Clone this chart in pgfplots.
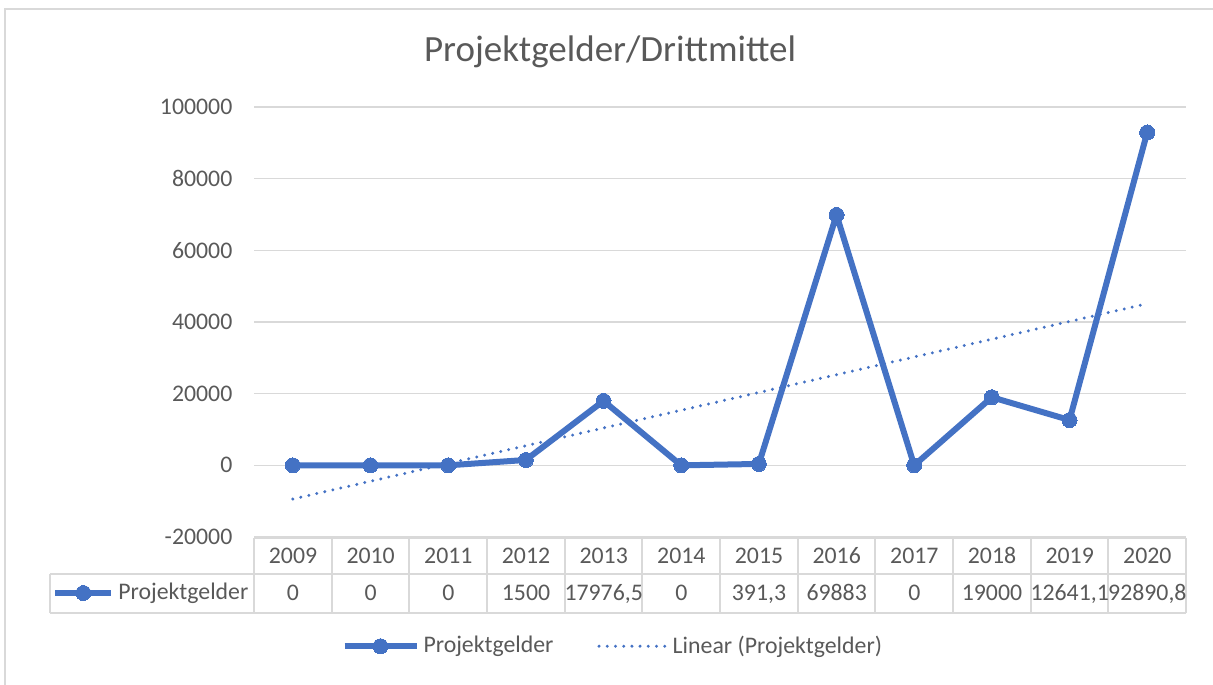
\documentclass[border=0pt]{standalone}
\usepackage{pgfplots}
\pgfplotsset{compat=1.18}
\usepackage{fontspec}
\setmainfont{Carlito}
\definecolor{xblue}{HTML}{4472C4}
\definecolor{xtext}{HTML}{595959}
\definecolor{xgrid}{HTML}{D9D9D9}
\newcommand{\fs}{\fontsize{11.9pt}{14pt}\selectfont}
\pgfplotsset{
  legA/.style={legend image code/.code={\draw[##1, mark repeat=2, mark phase=2]
    plot coordinates {(0pt,0pt)(18pt,0pt)(36pt,0pt)};}},
  legB/.style={legend image code/.code={\draw[##1] (0pt,0pt) -- (34pt,0pt);}},
  legC/.style={legend image code/.code={\draw[##1, mark repeat=2, mark phase=2]
    plot coordinates {(0pt,0pt)(14pt,0pt)(28pt,0pt)};}},
}
\begin{document}
\begin{tikzpicture}
\begin{scope}[x=0.5pt,y=-0.5pt]
\useasboundingbox (0,0) rectangle (1213,684);
\draw[xgrid, line width=1pt] (5,700) -- (5,9) -- (1230,9);
\end{scope}
\begin{axis}[
  at={(127pt,-268.5pt)}, anchor=south west,
  scale only axis, width=466pt, height=215pt,
  xmin=-0.5, xmax=11.5, ymin=-20000, ymax=100000,
  xtick=\empty,
  ytick={-20000,0,20000,40000,60000,80000,100000},
  ymajorgrids, grid style={xgrid, line width=0.8pt},
  axis line style={draw=none}, major tick length=0pt,
  y tick label style={font=\fs, text=xtext, xshift=-7.3pt,
    /pgf/number format/.cd, fixed, 1000 sep={}, assume math mode=true},
  scaled y ticks=false,
  title={Projektgelder/Drittmittel},
  title style={at={(0.382,1)}, anchor=center, yshift=21.5pt,
    font=\fontsize{18.5pt}{22pt}\selectfont, text=xtext},
  legend style={at={(0.386,-0.254)}, anchor=center, draw=none, fill=none,
    font=\fs, text=xtext, legend columns=2, inner sep=0pt,
    /tikz/every even column/.append style={column sep=20pt}},
  legend cell align=left,
]
\addplot[xblue, line width=3pt, line join=round, mark=*, mark size=3.75pt,
  mark options={fill=xblue, draw=xblue, line width=0pt}, legA]
  coordinates {(0,0)(1,0)(2,0)(3,1500)(4,17976.5)(5,0)(6,391.3)(7,69883)(8,0)(9,19000)(10,12641.1)(11,92890.8)};
\addlegendentry{Projektgelder}
\addplot[xblue, line width=1.65pt, dash pattern=on 0pt off 4.1pt, line cap=round, legB]
  coordinates {(0,-9396.5)(11,45110.3)};
\addlegendentry{Linear (Projektgelder)}
\end{axis}
\begin{axis}[hide axis, at={(26pt,-296.5pt)}, anchor=west,
  scale only axis, width=1pt, height=1pt, xmin=0, xmax=1, ymin=0, ymax=1,
  legend style={at={(0,0.5)}, anchor=west, draw=none, fill=none,
    font=\fs, text=xtext, inner sep=0pt}]
\addlegendimage{xblue, line width=3pt, mark=*, mark size=3.75pt,
  mark options={fill=xblue, draw=xblue, line width=0pt}, legC}
\addlegendentry{Projektgelder}
\end{axis}
\begin{scope}[x=0.5pt,y=-0.5pt]
\draw[xgrid, line width=1pt] (254,538) -- (1186,538);
\draw[xgrid, line width=1pt] (50,574) -- (1186,574);
\draw[xgrid, line width=1pt] (50,613) -- (1186,613);
\draw[xgrid, line width=1pt] (50,574) -- (50,613);
\foreach \k in {0,...,12} \draw[xgrid, line width=1pt] ({254+\k*77.667},538) -- ({254+\k*77.667},613);
\foreach \y [count=\i from 0] in {2009,2010,2011,2012,2013,2014,2015,2016,2017,2018,2019,2020}
  \node[font=\fs, text=xtext, inner sep=0pt, anchor=base] at ({293+\i*77.667},563.5) {\y};
\foreach \v [count=\i from 0] in {0,0,0,1500,{17976,5},0,{391,3},69883,0,19000,{12641,1},{92890,8}}
  \node[font=\fs, text=xtext, inner sep=0pt, anchor=base] at ({293+\i*77.667},600.5) {\v};
\end{scope}
\end{tikzpicture}
\end{document}
